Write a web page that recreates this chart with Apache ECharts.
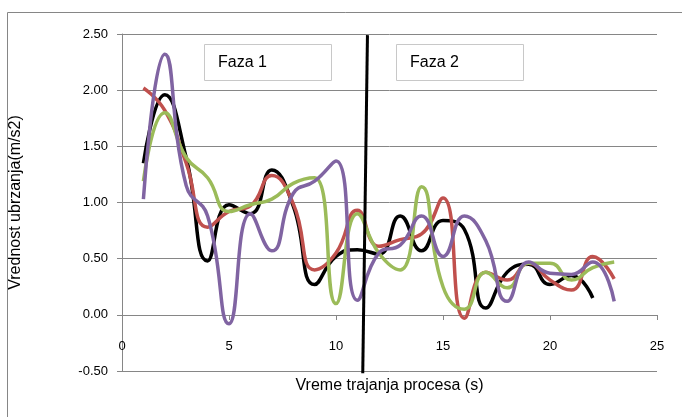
<!DOCTYPE html>
<html>
<head>
<meta charset="utf-8">
<script src="https://cdn.jsdelivr.net/npm/echarts@6/dist/echarts.min.js"></script>
<style>
html,body{margin:0;padding:0;background:#fff;}
#chart{width:682px;height:417px;}
</style>
</head>
<body>
<div id="chart"></div>
<script>
var xValues = [1,2,3,4,5,6,7,8,9,10,11,12,13,14,15,16,17,18,19,20,21,22,23];
var blackValues  = [1.35,1.96,1.40,0.48,0.98,0.90,1.29,0.97,0.27,0.52,0.58,0.54,0.88,0.57,0.84,0.76,0.06,0.38,0.45,0.27,0.35,0.15];
var redValues    = [2.02,1.82,1.35,0.78,0.92,0.97,1.24,0.99,0.40,0.55,0.93,0.61,0.67,0.72,1.04,-0.03,0.38,0.31,0.46,0.31,0.22,0.52,0.32];
var greenValues  = [1.19,1.80,1.40,1.22,0.92,0.98,1.03,1.17,1.22,0.10,0.90,0.55,0.40,1.14,0.25,0.05,0.38,0.24,0.46,0.46,0.31,0.42,0.47];
var purpleValues = [1.03,2.32,1.15,0.88,-0.08,0.90,0.57,1.08,1.19,1.37,0.13,0.55,0.62,0.88,0.52,0.88,0.66,0.12,0.47,0.37,0.36,0.47,0.12];
var dividerX = [11.47, 11.25];
var dividerY = [2.49, -0.52];
var xTicks = [0,5,10,15,20,25];
var yTicks = [-0.5,0,0.5,1,1.5,2,2.5];
var phaseLabels = ['Faza 1','Faza 2'];
var xAxisTitle = 'Vreme trajanja procesa (s)';
var yAxisTitle = 'Vrednost ubrzanja(m/s2)';

function pairs(vals){ return vals.map(function(v,i){ return [xValues[i], v]; }); }

var FONT = 'Liberation Sans';
var chart = echarts.init(document.getElementById('chart'));
function mkLine(name, vals, color){
  return {name:name, type:'line', data:pairs(vals), smooth:0.5, symbol:'none',
    lineStyle:{color:color, width:3.5}, itemStyle:{color:color}, z:3};
}
chart.setOption({
  animation:false,
  backgroundColor:'#fff',
  grid:{left:122, right:25, top:34, bottom:46, containLabel:false, outerBoundsMode:'none'},
  xAxis:{type:'value', min:xTicks[0], max:xTicks[xTicks.length-1], interval:5,
    position:'bottom', offset:-56,
    name:xAxisTitle, nameLocation:'middle', nameGap:63,
    nameTextStyle:{fontFamily:FONT, fontSize:16, color:'#000'},
    axisLine:{onZero:false, lineStyle:{color:'#868686', width:1}},
    axisTick:{show:true, inside:false, length:5, lineStyle:{color:'#868686'}},
    axisLabel:{fontFamily:FONT, fontSize:13, color:'#000', margin:25},
    splitLine:{show:false}},
  yAxis:{type:'value', min:yTicks[0], max:yTicks[yTicks.length-1], interval:0.5,
    name:yAxisTitle, nameLocation:'middle', nameGap:98, nameRotate:90,
    nameTextStyle:{fontFamily:FONT, fontSize:16, color:'#000'},
    axisLine:{show:true, lineStyle:{color:'#868686', width:1}},
    axisTick:{show:true, length:5, lineStyle:{color:'#868686'}},
    axisLabel:{fontFamily:FONT, fontSize:13, color:'#000', margin:14,
      formatter:function(v){ return v.toFixed(2); }},
    splitLine:{show:true, lineStyle:{color:'#868686', width:1}}},
  series:[
    mkLine('s1', blackValues, '#000000'),
    mkLine('s2', redValues, '#c0504d'),
    mkLine('s3', greenValues, '#9bbb59'),
    mkLine('s4', purpleValues, '#8064a2'),
    {name:'divider', type:'line', data:[[dividerX[0],dividerY[0]],[dividerX[1],dividerY[1]]],
      symbol:'none', clip:false, lineStyle:{color:'#000', width:3}, z:5}
  ],
  graphic:[
    {type:'rect', shape:{x:7.5, y:12.5, width:700, height:420}, style:{fill:'none', stroke:'#868686', lineWidth:1}, z:-1, silent:true},
    {type:'rect', shape:{x:204.5, y:44.5, width:127, height:36}, style:{fill:'#fff', stroke:'#c8c8c8', lineWidth:1}, z:10},
    {type:'text', x:218, y:63, style:{text:phaseLabels[0], fontFamily:FONT, fontSize:16, fill:'#000', textVerticalAlign:'middle'}, z:11},
    {type:'rect', shape:{x:396.5, y:44.5, width:127, height:36}, style:{fill:'#fff', stroke:'#c8c8c8', lineWidth:1}, z:10},
    {type:'text', x:410, y:63, style:{text:phaseLabels[1], fontFamily:FONT, fontSize:16, fill:'#000', textVerticalAlign:'middle'}, z:11}
  ]
});
</script>
</body>
</html>
